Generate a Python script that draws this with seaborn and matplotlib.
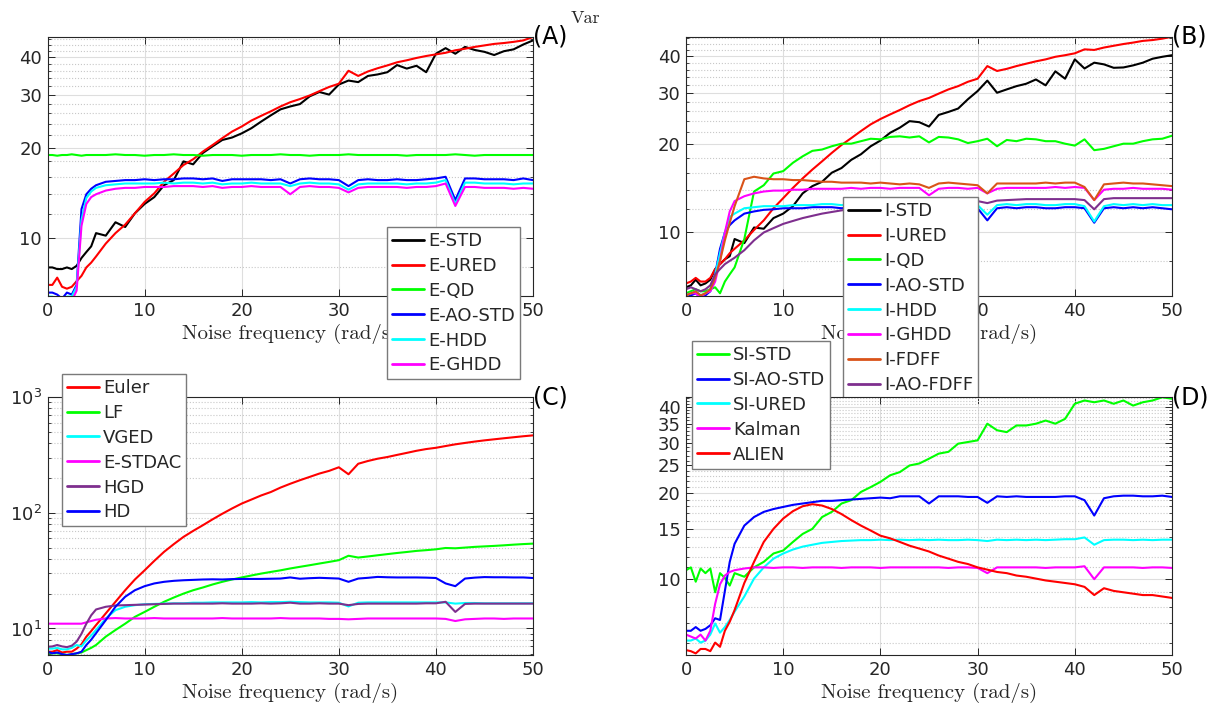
import numpy as np
import pandas as pd
import matplotlib.pyplot as plt
import seaborn as sns
from matplotlib.ticker import FixedLocator, NullFormatter, LogLocator

# frequency grid (rad/s)
freq = [0, 0.5, 1, 1.5, 2, 2.5, 3, 3.5, 4, 4.5] + list(range(5, 51))

# (A) explicit schemes
a_names = ['E-STD', 'E-URED', 'E-QD', 'E-AO-STD', 'E-HDD', 'E-GHDD']
a_std = [8.0, 8.0, 7.9, 7.9, 8.0, 7.9, 8.1, 8.6, 9.0, 9.4,
         10.4, 10.2, 11.3, 10.9, 12.1, 13.0, 13.7, 15.0, 15.6, 18.0,
         17.6, 19.2, 20.2, 21.2, 21.6, 22.3, 23.2, 24.4, 25.6, 26.8,
         27.4, 27.9, 29.6, 30.6, 30.0, 32.4, 33.4, 33.0, 34.6, 35.0,
         35.6, 37.6, 36.6, 37.4, 35.6, 41.0, 42.8, 41.0, 43.2, 42.2,
         41.6, 40.6, 41.8, 42.4, 44.0, 45.4]
a_ured = [7.0, 7.0, 7.4, 6.9, 6.8, 6.9, 7.2, 7.5, 8.0, 8.3,
          8.7, 9.6, 10.4, 11.1, 12.1, 13.2, 14.1, 15.4, 16.4, 17.5,
          18.3, 19.4, 20.4, 21.5, 22.6, 23.5, 24.6, 25.5, 26.4, 27.4,
          28.3, 29.0, 29.8, 30.8, 31.8, 32.6, 36.0, 34.6, 35.8, 36.7,
          37.5, 38.4, 39.0, 39.7, 40.3, 40.8, 41.3, 42.1, 42.6, 43.2,
          43.7, 44.2, 44.5, 44.9, 45.4, 46.6]
a_qd = [18.9, 18.9, 18.8, 18.9, 18.9, 19.0, 18.9, 18.8, 18.9, 18.9,
        18.9, 18.9, 19.0, 18.9, 18.9, 18.8, 18.9, 18.9, 19.0, 18.9,
        18.9, 18.8, 18.9, 18.9, 18.9, 18.8, 18.9, 18.9, 18.9, 19.0,
        18.9, 18.9, 18.8, 18.9, 18.9, 18.9, 19.0, 18.9, 18.9, 18.9,
        18.9, 18.9, 18.8, 18.9, 18.9, 18.9, 18.9, 19.0, 18.9, 18.8,
        18.9, 18.9, 18.9, 18.9, 18.9, 18.9]
a_aostd = [6.6, 6.6, 6.5, 6.3, 6.6, 6.5, 7.0, 12.5, 14.0, 14.6,
           15.0, 15.4, 15.5, 15.6, 15.6, 15.7, 15.6, 15.7, 15.7, 15.8,
           15.8, 15.7, 15.8, 15.5, 15.7, 15.7, 15.7, 15.7, 15.6, 15.7,
           15.2, 15.7, 15.8, 15.7, 15.7, 15.6, 14.9, 15.6, 15.7, 15.6,
           15.6, 15.7, 15.6, 15.6, 15.7, 15.8, 16.0, 13.4, 15.8, 15.8,
           15.7, 15.7, 15.7, 15.6, 15.8, 15.6]
a_hdd = [6.4, 6.4, 6.3, 6.2, 6.4, 6.4, 6.9, 11.5, 13.6, 14.3,
         14.7, 15.0, 15.1, 15.2, 15.2, 15.2, 15.2, 15.3, 15.2, 15.3,
         15.3, 15.2, 15.3, 15.1, 15.2, 15.2, 15.3, 15.2, 15.2, 15.2,
         14.9, 15.2, 15.3, 15.2, 15.2, 15.1, 14.5, 15.1, 15.2, 15.2,
         15.2, 15.2, 15.1, 15.2, 15.2, 15.3, 15.6, 13.0, 15.3, 15.3,
         15.2, 15.2, 15.2, 15.1, 15.2, 15.2]
a_ghdd = [6.3, 6.3, 6.1, 6.0, 6.3, 6.2, 6.7, 11.0, 13.0, 13.7,
          14.0, 14.4, 14.6, 14.7, 14.7, 14.8, 14.8, 14.8, 14.9, 14.9,
          14.9, 14.8, 14.9, 14.7, 14.8, 14.8, 14.9, 14.8, 14.8, 14.8,
          14.0, 14.8, 14.9, 14.8, 14.8, 14.7, 14.2, 14.7, 14.8, 14.8,
          14.8, 14.8, 14.7, 14.8, 14.8, 14.9, 15.2, 12.8, 14.8, 14.8,
          14.7, 14.7, 14.7, 14.6, 14.7, 14.6]

# (B) implicit schemes
b_names = ['I-STD', 'I-URED', 'I-QD', 'I-AO-STD', 'I-HDD', 'I-GHDD', 'I-FDFF', 'I-AO-FDFF']
b_std = [6.5, 6.6, 6.9, 6.6, 6.7, 6.9, 7.5, 7.8, 8.1, 8.3,
         9.5, 9.2, 10.4, 10.3, 11.2, 11.6, 12.3, 13.6, 14.4, 14.9,
         16.0, 16.6, 17.7, 18.5, 19.7, 20.6, 21.9, 22.8, 24.0, 23.8,
         23.0, 25.2, 25.8, 26.5, 28.5, 30.4, 33.0, 30.0, 30.8, 31.6,
         32.2, 33.3, 31.8, 35.5, 33.5, 39.0, 36.3, 38.0, 37.5, 36.5,
         36.6, 37.2, 38.0, 39.2, 39.8, 40.3]
b_ured = [6.7, 6.8, 7.0, 6.8, 6.8, 7.0, 7.5, 7.8, 8.1, 8.5,
          8.8, 9.4, 10.2, 11.0, 12.1, 13.1, 14.2, 15.3, 16.4, 17.5,
          18.7, 19.9, 21.0, 22.2, 23.4, 24.4, 25.3, 26.2, 27.2, 28.1,
          28.8, 29.8, 30.8, 31.6, 32.7, 33.5, 37.0, 35.6, 36.2, 37.0,
          37.7, 38.4, 39.0, 39.8, 40.3, 40.9, 42.2, 42.0, 42.8, 43.4,
          44.0, 44.5, 45.1, 45.4, 45.9, 46.6]
b_qd = [6.2, 6.3, 6.4, 6.3, 6.3, 6.4, 6.5, 6.2, 6.8, 7.2,
        7.6, 9.5, 13.8, 14.5, 15.9, 16.2, 17.3, 18.2, 19.0, 19.2,
        19.7, 20.1, 20.1, 20.5, 20.9, 20.8, 21.2, 21.3, 21.1, 21.3,
        20.3, 21.2, 21.1, 20.8, 20.2, 20.5, 20.9, 19.7, 20.7, 20.5,
        20.9, 20.8, 20.5, 20.5, 20.1, 19.8, 20.8, 19.1, 19.3, 19.7,
        20.1, 20.1, 20.5, 20.8, 20.9, 21.4]
b_aostd = [6.1, 6.1, 6.2, 6.0, 6.1, 6.3, 7.2, 8.8, 10.0, 10.6,
           11.0, 11.6, 11.8, 11.95, 12.0, 12.1, 12.1, 12.1, 12.2, 12.2,
           12.2, 12.1, 12.2, 12.2, 12.1, 12.2, 12.2, 12.1, 12.2, 12.2,
           12.1, 12.2, 12.2, 12.1, 12.2, 12.1, 11.0, 12.1, 12.2, 12.1,
           12.2, 12.2, 12.1, 12.1, 12.2, 12.2, 12.1, 10.8, 12.1, 12.2,
           12.1, 12.2, 12.1, 12.2, 12.1, 12.0]
b_hdd = [6.1, 6.2, 6.3, 6.1, 6.2, 6.4, 7.2, 8.5, 10.0, 11.3,
         11.6, 12.1, 12.2, 12.3, 12.3, 12.3, 12.4, 12.4, 12.4, 12.5,
         12.5, 12.4, 12.5, 12.5, 12.4, 12.5, 12.5, 12.4, 12.5, 12.5,
         12.4, 12.5, 12.5, 12.4, 12.5, 12.4, 11.5, 12.4, 12.5, 12.4,
         12.5, 12.5, 12.4, 12.4, 12.5, 12.5, 12.3, 10.9, 12.3, 12.5,
         12.4, 12.5, 12.4, 12.5, 12.4, 12.4]
b_ghdd = [6.1, 6.2, 6.2, 6.0, 6.2, 6.3, 6.8, 8.0, 10.0, 11.8,
          12.8, 13.3, 13.6, 13.8, 13.9, 13.9, 14.0, 14.0, 14.1, 14.1,
          14.1, 14.1, 14.2, 14.1, 14.2, 14.2, 14.1, 14.2, 14.2, 14.2,
          13.4, 14.1, 14.2, 14.2, 14.1, 14.2, 13.6, 14.1, 14.2, 14.2,
          14.2, 14.2, 14.2, 14.3, 14.2, 14.3, 14.2, 12.9, 14.0, 14.1,
          14.1, 14.2, 14.1, 14.1, 14.1, 14.0]
b_fdff = [6.1, 6.2, 6.3, 6.1, 6.2, 6.4, 7.0, 8.0, 9.4, 10.8,
          12.3, 15.2, 15.5, 15.3, 15.2, 15.2, 15.1, 15.1, 15.0, 14.9,
          14.9, 14.8, 14.8, 14.8, 14.7, 14.8, 14.7, 14.6, 14.7, 14.6,
          14.2, 14.7, 14.8, 14.7, 14.6, 14.5, 13.6, 14.7, 14.7, 14.7,
          14.7, 14.7, 14.8, 14.7, 14.8, 14.8, 14.3, 12.9, 14.6, 14.7,
          14.8, 14.7, 14.7, 14.6, 14.5, 14.4]
b_aofdff = [6.4, 6.5, 6.4, 6.3, 6.4, 6.6, 7.2, 7.5, 7.8, 8.0,
            8.2, 8.7, 9.4, 10.0, 10.35, 10.7, 10.95, 11.2, 11.4, 11.6,
            11.75, 11.9, 12.0, 12.1, 12.2, 12.3, 12.35, 12.4, 12.5, 12.55,
            12.6, 12.65, 12.7, 12.7, 12.75, 12.8, 12.6, 12.85, 12.9, 12.95,
            13.0, 13.0, 13.0, 13.0, 13.0, 13.0, 12.9, 12.0, 13.0, 13.1,
            13.1, 13.1, 13.1, 13.1, 13.1, 13.1]

# (C) reference methods
c_names = ['Euler', 'LF', 'VGED', 'E-STDAC', 'HGD', 'HD']
c_euler = [6.3, 6.3, 6.5, 6.2, 6.3, 6.3, 6.7, 7.3, 8.5, 9.5,
           10.7, 13.5, 17.0, 21.4, 26.5, 31.8, 38.4, 45.9, 53.5, 61.8,
           69.7, 78.0, 87.7, 98.0, 108.8, 120, 130, 141, 151, 165,
           178, 191, 204, 218, 230, 247, 215, 265, 280, 293,
           303, 316, 329, 343, 355, 364, 377, 390, 401, 412,
           422, 431, 440, 449, 458, 466]
c_lf = [6.1, 6.1, 6.1, 6.0, 5.9, 6.0, 6.1, 6.2, 6.5, 6.8,
        7.2, 8.5, 9.7, 11.0, 12.6, 13.9, 15.4, 17.0, 18.5, 20.0,
        21.4, 22.6, 24.0, 25.3, 26.5, 27.6, 28.7, 29.8, 30.8, 31.8,
        33.0, 34.1, 35.2, 36.4, 37.6, 38.9, 42.5, 41.0, 41.9, 42.9,
        43.9, 44.9, 45.8, 46.8, 47.5, 48.3, 49.6, 49.3, 50.0, 50.7,
        51.2, 51.7, 52.3, 53.0, 53.6, 54.1]
c_vged = [6.7, 6.7, 6.8, 6.6, 6.6, 6.8, 7.2, 7.0, 7.9, 8.7,
          9.7, 12.2, 14.4, 15.4, 15.9, 16.2, 16.3, 16.4, 16.5, 16.5,
          16.7, 16.7, 16.8, 16.8, 16.8, 16.8, 16.9, 16.8, 16.9, 16.9,
          17.0, 16.9, 16.8, 16.8, 16.8, 16.7, 15.5, 16.7, 16.8, 16.8,
          16.8, 16.8, 16.8, 16.8, 16.8, 16.8, 16.8, 16.4, 16.6, 16.6,
          16.5, 16.5, 16.5, 16.5, 16.5, 16.5]
c_stdac = [11.0, 11.0, 11.0, 11.0, 11.0, 11.0, 11.0, 11.0, 11.3, 11.6,
           11.9, 12.2, 12.3, 12.2, 12.2, 12.2, 12.3, 12.2, 12.2, 12.2,
           12.2, 12.2, 12.2, 12.3, 12.2, 12.2, 12.2, 12.2, 12.2, 12.3,
           12.2, 12.2, 12.2, 12.2, 12.1, 12.1, 12.0, 12.1, 12.2, 12.2,
           12.2, 12.2, 12.2, 12.2, 12.2, 12.2, 12.1, 11.6, 12.0, 12.1,
           12.2, 12.2, 12.1, 12.2, 12.2, 12.2]
c_hgd = [6.95, 7.0, 7.2, 7.0, 6.9, 7.1, 7.7, 9.0, 11.0, 13.0,
         14.6, 15.4, 15.8, 15.9, 16.0, 16.1, 16.2, 16.3, 16.4, 16.4,
         16.4, 16.4, 16.4, 16.5, 16.4, 16.4, 16.4, 16.5, 16.4, 16.5,
         16.7, 16.4, 16.4, 16.5, 16.4, 16.4, 15.9, 16.3, 16.4, 16.4,
         16.4, 16.4, 16.4, 16.4, 16.5, 16.5, 17.0, 13.9, 16.3, 16.4,
         16.4, 16.4, 16.4, 16.4, 16.4, 16.4]
c_hd = [6.3, 6.1, 6.2, 6.0, 5.9, 6.0, 6.1, 6.3, 7.2, 8.0,
        9.1, 11.8, 15.4, 18.8, 21.4, 23.2, 24.5, 25.3, 25.8, 26.1,
        26.3, 26.5, 26.6, 26.5, 26.7, 26.8, 26.8, 26.8, 26.9, 27.0,
        27.6, 26.9, 27.2, 27.4, 27.2, 27.0, 25.3, 27.0, 27.4, 27.9,
        27.7, 27.6, 27.6, 27.6, 27.5, 27.3, 24.5, 23.2, 27.0, 27.5,
        27.8, 27.7, 27.7, 27.6, 27.6, 27.3]

# (D) semi-implicit / filters
d_names = ['SI-STD', 'SI-AO-STD', 'SI-URED', 'Kalman', 'ALIEN']
d_std = [10.75, 11.0, 9.8, 10.9, 10.5, 10.9, 9.0, 10.5, 10.1, 9.5,
         10.5, 10.2, 11.0, 11.5, 12.3, 12.6, 13.5, 14.4, 15.0, 16.5,
         17.2, 18.4, 18.9, 20.2, 21.0, 21.9, 23.1, 23.7, 25.0, 25.4,
         26.4, 27.5, 27.9, 29.8, 30.2, 30.6, 35.0, 33.2, 32.7, 34.5,
         34.5, 35.0, 35.9, 35.0, 36.4, 41.1, 42.2, 41.6, 42.2, 41.1,
         42.2, 40.5, 41.6, 42.2, 43.3, 42.8]
d_aostd = [6.6, 6.6, 6.8, 6.6, 6.7, 6.9, 7.3, 7.2, 9.1, 11.5,
           13.3, 15.4, 16.5, 17.2, 17.6, 17.9, 18.2, 18.4, 18.6, 18.8,
           18.8, 18.9, 19.0, 19.1, 19.2, 19.3, 19.2, 19.5, 19.5, 19.5,
           18.4, 19.5, 19.5, 19.5, 19.4, 19.4, 18.5, 19.5, 19.4, 19.5,
           19.4, 19.4, 19.4, 19.4, 19.5, 19.5, 18.9, 16.7, 19.2, 19.5,
           19.6, 19.6, 19.5, 19.5, 19.6, 19.4]
d_ured = [6.1, 6.1, 6.2, 6.0, 6.1, 6.4, 7.0, 6.5, 6.8, 7.2,
          7.7, 8.7, 10.05, 11.0, 11.8, 12.3, 12.7, 13.0, 13.2, 13.4,
          13.5, 13.6, 13.65, 13.7, 13.7, 13.75, 13.7, 13.75, 13.7, 13.75,
          13.7, 13.75, 13.7, 13.7, 13.75, 13.7, 13.6, 13.75, 13.7, 13.75,
          13.7, 13.75, 13.7, 13.75, 13.8, 13.8, 14.0, 13.2, 13.7, 13.75,
          13.75, 13.7, 13.75, 13.7, 13.75, 13.75]
d_kalman = [6.4, 6.3, 6.2, 6.4, 6.1, 6.6, 8.2, 9.6, 10.3, 10.6,
            10.75, 10.9, 11.0, 11.0, 10.95, 11.0, 11.0, 10.95, 11.0, 11.0,
            11.0, 10.95, 11.0, 11.0, 11.0, 10.95, 11.0, 11.0, 11.0, 11.0,
            11.0, 11.0, 10.95, 11.0, 11.0, 10.95, 10.5, 11.0, 11.0, 11.0,
            11.0, 11.0, 10.95, 11.0, 11.0, 11.0, 11.1, 10.0, 11.0, 11.0,
            11.0, 11.0, 10.95, 11.0, 11.0, 10.95]
d_alien = [5.65, 5.6, 5.5, 5.7, 5.7, 5.6, 6.0, 5.8, 6.6, 7.1,
           7.8, 9.7, 11.5, 13.5, 15.0, 16.3, 17.3, 18.0, 18.3, 18.1,
           17.6, 16.9, 16.1, 15.4, 14.8, 14.2, 13.9, 13.5, 13.1, 12.8,
           12.5, 12.1, 11.8, 11.5, 11.3, 11.0, 10.8, 10.6, 10.5, 10.3,
           10.2, 10.05, 9.9, 9.8, 9.7, 9.6, 9.4, 8.8, 9.3, 9.1,
           9.0, 8.9, 8.8, 8.8, 8.7, 8.6]

sns.set_style('ticks')
plt.rcParams['font.family'] = ['DejaVu Sans']
plt.rcParams['axes.unicode_minus'] = False

W, H = 1222, 711
fig = plt.figure(figsize=(W / 100, H / 100), dpi=100)
ink = '#262626'


def px_axes(l, t, r, b):
    return fig.add_axes([l / W, 1 - b / H, (r - l) / W, (b - t) / H])


def panel(ax, curves, names, colors, ylim, tag, leg_xy, yticks=None, minor=None):
    df = pd.DataFrame({'freq': freq * len(curves),
                       'value': np.concatenate(curves),
                       'method': np.repeat(names, len(freq))})
    sns.lineplot(data=df, x='freq', y='value', hue='method', hue_order=names,
                 palette=colors, linewidth=1.5, estimator=None, ax=ax)
    ax.set_yscale('log')
    ax.set_xlim(0, 50)
    ax.set_ylim(*ylim)
    ax.set_xticks([0, 10, 20, 30, 40, 50])
    if yticks is not None:
        ax.yaxis.set_major_locator(FixedLocator(yticks))
        ax.set_yticklabels([str(t) for t in yticks])
        ax.yaxis.set_minor_locator(FixedLocator(minor))
    else:
        ax.yaxis.set_major_locator(LogLocator(base=10))
        ax.yaxis.set_minor_locator(LogLocator(base=10, subs=np.arange(2, 10)))
    ax.yaxis.set_minor_formatter(NullFormatter())
    ax.grid(True, which='major', color='#dedede', linewidth=0.8)
    ax.yaxis.grid(True, which='minor', color='#c8c8c8', linestyle=':', linewidth=0.8)
    ax.set_axisbelow(True)
    ax.tick_params(which='both', direction='in', top=True, right=True,
                   colors=ink, labelsize=13, pad=4)
    ax.tick_params(which='major', length=5, width=0.7)
    ax.tick_params(which='minor', length=2.5, width=0.6)
    for s in ax.spines.values():
        s.set_color(ink)
        s.set_linewidth(0.8)
    ax.set_ylabel('')
    ax.set_xlabel('Noise frequency (rad/s)', family='cmr10', fontsize=15,
                  color=ink, labelpad=3)
    ax.text(1.0, 1.0, tag, transform=ax.transAxes, ha='left', va='center',
            fontsize=17, color='black')
    leg = ax.legend(loc='upper left', bbox_to_anchor=(leg_xy[0] / W, 1 - leg_xy[1] / H),
                    bbox_transform=fig.transFigure, fontsize=13, frameon=True,
                    fancybox=False, framealpha=1, edgecolor='#7a7a7a',
                    borderpad=0.28, labelspacing=0.38, handlelength=1.75,
                    handletextpad=0.25, borderaxespad=0)
    leg.get_frame().set_linewidth(1.0)
    for line in leg.get_lines():
        line.set_linewidth(2.0)


pure = {'k': '#000000', 'r': '#ff0000', 'g': '#00ff00', 'b': '#0000ff',
        'c': '#00ffff', 'm': '#ff00ff', 'o': '#d95319', 'p': '#7e2f8e'}

axA = px_axes(47.5, 37, 533, 296)
panel(axA, [a_std, a_ured, a_qd, a_aostd, a_hdd, a_ghdd], a_names,
      [pure[c] for c in 'krgbcm'], (6.43, 46.6), '(A)', (387, 227),
      yticks=[10, 20, 30, 40], minor=[8, 12, 14, 16, 18, 22, 24, 26, 28, 32, 34, 36, 38, 42, 44, 46])

axB = px_axes(686, 37, 1172, 296)
panel(axB, [b_std, b_ured, b_qd, b_aostd, b_hdd, b_ghdd, b_fdff, b_aofdff], b_names,
      [pure[c] for c in 'krgbcmop'], (6.07, 46.5), '(B)', (843, 197),
      yticks=[10, 20, 30, 40], minor=[8, 12, 14, 16, 18, 22, 24, 26, 28, 32, 34, 36, 38, 42, 44, 46])

axC = px_axes(47.5, 397, 533, 655)
panel(axC, [c_euler, c_lf, c_vged, c_stdac, c_hgd, c_hd], c_names,
      [pure[c] for c in 'rgcmpb'], (5.9, 1000), '(C)', (62, 374))

axD = px_axes(686, 397, 1172, 655)
panel(axD, [d_std, d_aostd, d_ured, d_kalman, d_alien], d_names,
      [pure[c] for c in 'gbcmr'], (5.43, 43.4), '(D)', (692, 341),
      yticks=[10, 15, 20, 25, 30, 35, 40],
      minor=[6, 7, 8, 9, 11, 12, 13, 14, 16, 17, 18, 19, 21, 22, 23, 24, 26, 27, 28, 29,
             31, 32, 33, 34, 36, 37, 38, 39, 41, 42, 43])

fig.text(585 / W, 1 - 18 / H, 'Var', family='cmr10', fontsize=13, ha='center', va='center')

fig.savefig('out.png', dpi=100)
